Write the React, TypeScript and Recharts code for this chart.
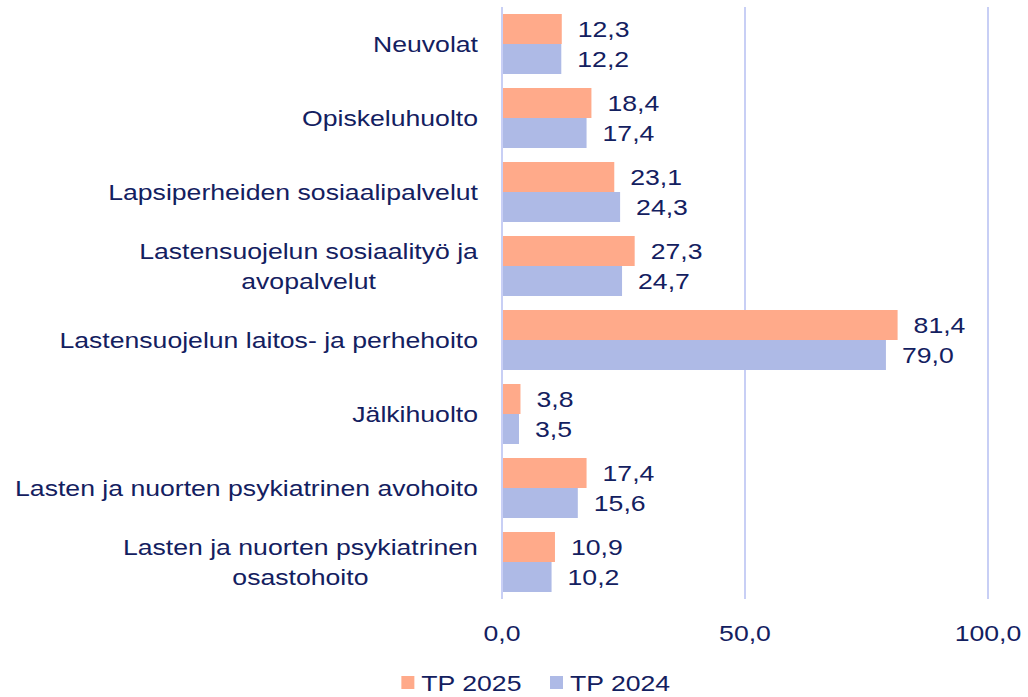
import { BarChart, Bar, XAxis, YAxis, CartesianGrid, Legend, LabelList } from "recharts";

// categories (line breaks as in the original chart)
const categories = [
  "Neuvolat",
  "Opiskeluhuolto",
  "Lapsiperheiden sosiaalipalvelut",
  "Lastensuojelun sosiaalityö ja\navopalvelut",
  "Lastensuojelun laitos- ja perhehoito",
  "Jälkihuolto",
  "Lasten ja nuorten psykiatrinen avohoito",
  "Lasten ja nuorten psykiatrinen\nosastohoito",
];
const tp2025 = [12.3, 18.4, 23.1, 27.3, 81.4, 3.8, 17.4, 10.9];
const tp2024 = [12.2, 17.4, 24.3, 24.7, 79.0, 3.5, 15.6, 10.2];
const xTicks = [0, 50, 100];
const seriesNames = ["TP 2025", "TP 2024"];

const data = categories.map((name, i) => ({
  name,
  tp2025: tp2025[i],
  tp2024: tp2024[i],
}));

if (typeof document !== "undefined") document.body.style.margin = "0";

const FONT = '"Liberation Sans", Arial, sans-serif';
const SIZE = 22;
const SX = 1.21; // text in the original is slightly wide
const INK = "#13205F";
const ORANGE = "#FFAA8A";
const BLUE = "#AEBAE6";
const GRID = "#C8CFF5";

let ctx: CanvasRenderingContext2D | null = null;
function textWidth(s: string) {
  if (!ctx) ctx = document.createElement("canvas").getContext("2d");
  if (!ctx) return s.length * SIZE * 0.5 * SX;
  ctx.font = `${SIZE}px ${FONT}`;
  return ctx.measureText(s).width * SX;
}

const fmt = (v: number) => v.toFixed(1).replace(".", ",");

function WideText({ x, y, anchor, children }: any) {
  return (
    <text
      transform={`translate(${x},${y}) scale(${SX},1)`}
      textAnchor={anchor}
      dominantBaseline="central"
      fontFamily={FONT}
      fontSize={SIZE}
      fill={INK}
    >
      {children}
    </text>
  );
}

function CategoryTick({ x, y, payload }: any) {
  const lines: string[] = String(payload.value).split("\n");
  const right = x - 16;
  if (lines.length === 1) {
    return <WideText x={right} y={y} anchor="end">{lines[0]}</WideText>;
  }
  const maxW = Math.max(...lines.map(textWidth));
  const cx = right - maxW / 2;
  return (
    <g>
      {lines.map((l, i) => (
        <WideText key={i} x={cx} y={y + (i - (lines.length - 1) / 2) * 30} anchor="middle">
          {l}
        </WideText>
      ))}
    </g>
  );
}

function ValueTick({ x, y, payload }: any) {
  return <WideText x={x} y={y + 26} anchor="middle">{fmt(payload.value)}</WideText>;
}

function ValueLabel({ x, y, width, height, value }: any) {
  return <WideText x={x + width + 16} y={y + height / 2} anchor="start">{fmt(value)}</WideText>;
}

function LegendBox() {
  const colors = [ORANGE, BLUE];
  const widths = seriesNames.map(textWidth);
  const items: { x: number; w: number }[] = [];
  let total = 0;
  widths.forEach((w, i) => {
    items.push({ x: total, w });
    total += 20 + w + (i < widths.length - 1 ? 28 : 0);
  });
  const start = 536 - total / 2;
  return (
    <svg width={1028} height={40} style={{ display: "block" }}>
      {seriesNames.map((n, i) => (
        <g key={n}>
          <rect x={start + items[i].x} y={19} width={13} height={13} fill={colors[i]} />
          <WideText x={start + items[i].x + 20} y={26} anchor="start">{n}</WideText>
        </g>
      ))}
    </svg>
  );
}

export default function App() {
  return (
    <div style={{ width: 1028, height: 697, background: "#fff" }}>
      <BarChart
        width={1028}
        height={697}
        data={data}
        layout="vertical"
        margin={{ top: 7, right: 40, bottom: 0, left: 0 }}
        barCategoryGap={7}
        barGap={0}
      >
        <CartesianGrid horizontal={false} stroke={GRID} strokeWidth={2} />
        <XAxis
          type="number"
          domain={[0, 100]}
          ticks={xTicks}
          axisLine={false}
          tickLine={false}
          tick={<ValueTick />}
          height={58}
          interval={0}
        />
        <YAxis
          type="category"
          dataKey="name"
          width={502}
          axisLine={{ stroke: GRID, strokeWidth: 2 }}
          tickLine={false}
          tick={<CategoryTick />}
          interval={0}
        />
        <Legend verticalAlign="bottom" height={40} content={() => <LegendBox />} />
        <Bar dataKey="tp2025" name={seriesNames[0]} fill={ORANGE} barSize={30} isAnimationActive={false}>
          <LabelList dataKey="tp2025" content={<ValueLabel />} />
        </Bar>
        <Bar dataKey="tp2024" name={seriesNames[1]} fill={BLUE} barSize={30} isAnimationActive={false}>
          <LabelList dataKey="tp2024" content={<ValueLabel />} />
        </Bar>
      </BarChart>
    </div>
  );
}
